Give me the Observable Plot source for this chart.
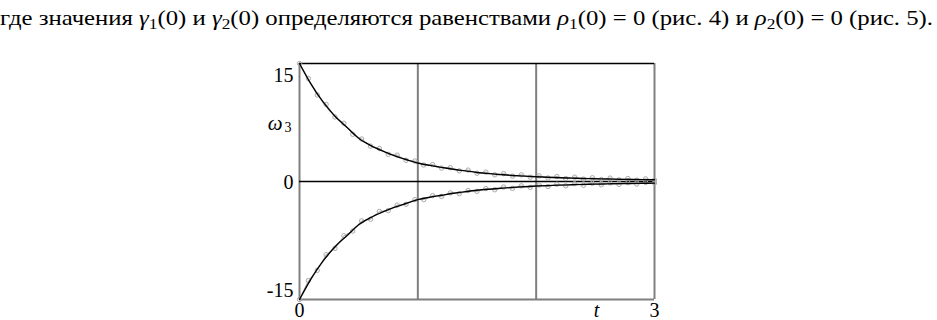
<!DOCTYPE html>
<html>
<head>
<meta charset="utf-8">
<script src="https://cdn.jsdelivr.net/npm/d3@7"></script>
<script src="https://cdn.jsdelivr.net/npm/@observablehq/plot@0.6"></script>
<style>
  html, body { margin: 0; padding: 0; background: #fff; }
  #head { position: relative; height: 40px; width: 937px; overflow: hidden; }
  #sent { position: absolute; left: 0; top: 6px; font-family: 'Liberation Serif', serif; font-size: 21px; white-space: nowrap; transform-origin: 0 0; color: #000; }
  #sent i { font-style: italic; }
  #sent sub { font-size: 70%; vertical-align: -0.3em; line-height: 0; }
  #chart svg { display: block; }
</style>
</head>
<body>
<div id="head"><span id="sent">где значения <i>γ</i><sub>1</sub>(0) и <i>γ</i><sub>2</sub>(0) определяются равенствами <i>ρ</i><sub>1</sub>(0) = 0 (рис. 4) и <i>ρ</i><sub>2</sub>(0) = 0 (рис. 5).</span></div>
<div id="chart"></div>
<script>
// smooth (black) curves, t step 0.1
const tSmooth = [0,0.1,0.2,0.3,0.4,0.5,0.6,0.7,0.8,0.9,1.0,1.1,1.2,1.3,1.4,1.5,1.6,1.7,1.8,1.9,2.0,2.1,2.2,2.3,2.4,2.5,2.6,2.7,2.8,2.9,3.0];
const upperSmooth = [15.0,12.3,10.1,8.3,6.9,5.5,4.6,3.9,3.3,2.8,2.35,2.05,1.8,1.55,1.35,1.15,1.0,0.88,0.77,0.68,0.6,0.54,0.48,0.43,0.39,0.35,0.32,0.29,0.26,0.24,0.22];
const lowerSmooth = [-15.0,-12.3,-10.1,-8.3,-6.9,-5.5,-4.6,-3.9,-3.3,-2.8,-2.3,-2.0,-1.75,-1.5,-1.3,-1.12,-0.98,-0.86,-0.75,-0.66,-0.58,-0.52,-0.46,-0.41,-0.37,-0.33,-0.3,-0.27,-0.25,-0.23,-0.21];

// noisy (gray, circles) series, t step 0.075
const tNoisy = [0,0.075,0.15,0.225,0.3,0.375,0.45,0.525,0.6,0.675,0.75,0.825,0.9,0.975,1.05,1.125,1.2,1.275,1.35,1.425,1.5,1.575,1.65,1.725,1.8,1.875,1.95,2.025,2.1,2.175,2.25,2.325,2.4,2.475,2.55,2.625,2.7,2.775,2.85,2.925,3.0];
const upperNoisy = [15.0,13.1,11.0,9.8,8.2,7.4,6.0,5.4,4.5,4.2,3.45,3.35,2.7,2.6,2.1,2.15,1.7,1.75,1.35,1.45,1.05,1.2,0.85,1.0,0.68,0.85,0.55,0.72,0.45,0.63,0.37,0.55,0.3,0.48,0.25,0.43,0.2,0.38,0.17,0.33,0.2];
const lowerNoisy = [-15.0,-12.6,-11.3,-9.3,-8.5,-6.9,-6.3,-5.0,-4.8,-3.8,-3.7,-3.0,-2.9,-2.3,-2.3,-1.8,-1.9,-1.45,-1.55,-1.15,-1.25,-0.9,-1.05,-0.7,-0.88,-0.55,-0.75,-0.45,-0.64,-0.35,-0.55,-0.28,-0.48,-0.22,-0.42,-0.18,-0.37,-0.15,-0.33,-0.12,-0.2];

const yTicks = [-15, 0, 15];
const xTicks = [0, 3];
const gridX = [1, 2];
const yLabel = "ω";
const yLabelSub = "3";
const xLabel = "t";

const smooth = tSmooth.flatMap((t, i) => [
  {t, v: upperSmooth[i], s: "upper"},
  {t, v: lowerSmooth[i], s: "lower"}
]);
const noisy = tNoisy.flatMap((t, i) => [
  {t, v: upperNoisy[i], s: "upper"},
  {t, v: lowerNoisy[i], s: "lower"}
]);

const gray = "#7f7f7f";
const font = "'Liberation Serif', serif";
const tickOffset = {"15": 12, "0": 1, "-15": -9};

const chart = Plot.plot({
  width: 937,
  height: 280,
  marginLeft: 299,
  marginRight: 283,
  marginTop: 23,
  marginBottom: 21,
  x: {domain: [0, 3], axis: null},
  y: {domain: [-15, 15], axis: null},
  style: {fontFamily: font, background: "#fff"},
  marks: [
    Plot.ruleX(gridX, {stroke: gray, strokeWidth: 2}),
    Plot.ruleX([0], {stroke: gray, strokeWidth: 2}),
    Plot.ruleX([3], {stroke: gray, strokeWidth: 2}),
    Plot.ruleY([-15], {stroke: gray, strokeWidth: 2}),
    Plot.ruleY([15], {stroke: "#000", strokeWidth: 1.5}),
    Plot.ruleY([0], {stroke: "#000", strokeWidth: 1.3}),
    Plot.line(noisy, {x: "t", y: "v", z: "s", stroke: "#aaa", strokeWidth: 1}),
    Plot.dot(noisy, {x: "t", y: "v", r: 2.2, stroke: "#aaa", strokeWidth: 1, fill: "none"}),
    Plot.line(smooth, {x: "t", y: "v", z: "s", stroke: "#000", strokeWidth: 1.4, curve: "monotone-x"}),
    ...yTicks.map(d => Plot.text([d], {x: 0, y: d => d, text: d => String(d), textAnchor: "end", dx: -6,
      dy: tickOffset[String(d)], fontSize: 20, fill: "#000"})),
    Plot.text(xTicks, {x: d => d, y: -15, text: d => String(d), dy: 11, fontSize: 20, fill: "#000"}),
    Plot.text([yLabel], {x: 0, y: 7.4, text: d => d, textAnchor: "end", dx: -17, fontSize: 21, fontStyle: "italic", fill: "#000"}),
    Plot.text([yLabelSub], {x: 0, y: 7.4, text: d => d, textAnchor: "end", dx: -8, dy: 4, fontSize: 14, fill: "#000"}),
    Plot.text([xLabel], {x: 2.51, y: -15, text: d => d, dy: 11, fontSize: 20, fontStyle: "italic", fill: "#000"})
  ]
});
document.getElementById("chart").appendChild(chart);

// fit the sentence to the reference width
const s = document.getElementById("sent");
const w = s.getBoundingClientRect().width;
s.style.transform = `scaleX(${933 / w})`;
</script>
</body>
</html>
